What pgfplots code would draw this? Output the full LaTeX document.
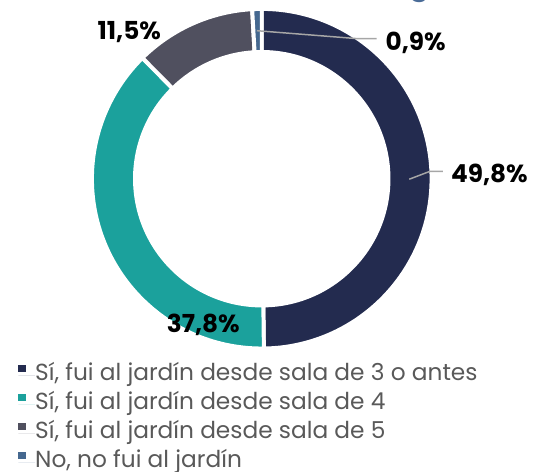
\documentclass[border=0pt]{standalone}
\usepackage{pgfplots}
\usepackage{pgfplotstable}
\pgfplotsset{compat=1.18}
\usepackage{fontspec}
\setmainfont{Poppins}

\definecolor{pc0}{HTML}{232B4F}
\definecolor{pc1}{HTML}{1BA19C}
\definecolor{pc2}{HTML}{50505F}
\definecolor{pc3}{HTML}{45688F}
\definecolor{leadgray}{HTML}{A6A6A6}
\definecolor{legtext}{HTML}{595959}
\definecolor{titleblue}{HTML}{4A6C98}

% porcentajes de cada respuesta
\pgfplotstableread{
value
49.8
37.8
11.5
0.9
}\pietable

\begin{document}
% angulos de inicio y fin de cada sector (sentido horario desde arriba)
\gdef\cumsum{0}
\foreach \i in {0,...,3}{%
  \pgfplotstablegetelem{\i}{value}\of\pietable
  \pgfmathsetmacro\aA{90-3.6*\cumsum}%
  \pgfmathsetmacro\cumnew{\cumsum+\pgfplotsretval}%
  \pgfmathsetmacro\aB{90-3.6*\cumnew}%
  \expandafter\xdef\csname startang\i\endcsname{\aA}%
  \expandafter\xdef\csname endang\i\endcsname{\aB}%
  \xdef\cumsum{\cumnew}%
}
\begin{tikzpicture}
\useasboundingbox (0,0) rectangle (537pt,476pt);
\clip (0,0) rectangle (537pt,476pt);
\begin{axis}[
  x=1pt, y=1pt,
  xmin=0, xmax=537, ymin=0, ymax=476,
  anchor=origin, at={(0,0)},
  hide axis, clip=false,
  legend cell align=left,
  legend image code/.code={\fill (0pt,3.5pt) rectangle (7.5pt,11pt);
    \path (0pt,0pt) -- (17pt,0pt);},
  legend style={draw=none, fill=none,
    at={(axis cs:13,111.5)}, anchor=north west,
    font=\fontsize{23.5}{29}\selectfont, text=legtext,
    row sep=0pt, inner sep=0pt,
    nodes={inner sep=0pt, text height=20pt, text depth=9.3pt}},
]
\pgfplotsinvokeforeach{0,...,3}{
  \path[fill=pc#1, draw=white, line width=4pt]
    (axis cs:259,295.5) ++(\csname startang#1\endcsname:171.5pt)
    arc[start angle=\csname startang#1\endcsname, end angle=\csname endang#1\endcsname, radius=171.5pt]
    -- ++(\csname endang#1\endcsname+180:43.5pt)
    arc[start angle=\csname endang#1\endcsname, end angle=\csname startang#1\endcsname, radius=128pt]
    -- cycle;
}
\addlegendimage{fill=pc0, draw=none}
\addlegendimage{fill=pc1, draw=none}
\addlegendimage{fill=pc2, draw=none}
\addlegendimage{fill=pc3, draw=none}
\legend{{Sí, fui al jardín desde sala de 3 o antes},
        {Sí, fui al jardín desde sala de 4},
        {Sí, fui al jardín desde sala de 5},
        {No, no fui al jardín}}

% lineas guia
\draw[leadgray, line width=1.5pt] (axis cs:408,295) -- (axis cs:429,303) -- (axis cs:442,303);
\draw[leadgray, line width=1.5pt] (axis cs:254,445) -- (axis cs:355,437) -- (axis cs:375,437);

% etiquetas
\begin{scope}[every node/.style={inner sep=0pt, font=\bfseries\fontsize{25}{30}\selectfont}]
\node[anchor=base west] at (axis cs:450,292) {49,8\%};
\node[anchor=base west] at (axis cs:163,140) {37,8\%};
\node[anchor=base west] at (axis cs:93,436.5) {11,5\%};
\node[anchor=base west] at (axis cs:384,425) {0,9\%};
\end{scope}

% resto del titulo recortado
\node[anchor=base, inner sep=0pt, text=titleblue, font=\bfseries\fontsize{30}{36}\selectfont] at (axis cs:418,482) {g};
\end{axis}
\end{tikzpicture}
\end{document}
